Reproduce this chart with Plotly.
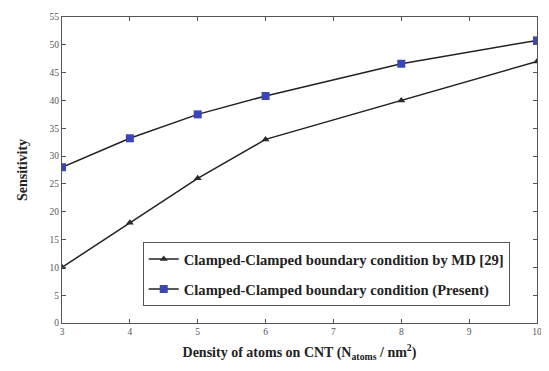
import plotly.graph_objects as go

density = [3, 4, 5, 6, 8, 10]
md_sens = [10, 18, 26, 33, 40, 47]
present_sens = [28, 33.2, 37.5, 40.8, 46.6, 50.8]
x_ticks = [3, 4, 5, 6, 7, 8, 9, 10]
y_ticks = list(range(0, 56, 5))

font_family = "Liberation Serif"

fig = go.Figure()
fig.add_trace(go.Scatter(
    x=density, y=md_sens, mode="lines+markers",
    name="<b>Clamped-Clamped boundary condition by MD [29]</b>",
    legendgroup="md",
    line=dict(color="#222222", width=1.5),
    marker=dict(symbol="triangle-up", size=7, color="#2a2a2a"),
))
fig.add_trace(go.Scatter(
    x=density, y=present_sens, mode="lines+markers",
    name="<b>Clamped-Clamped boundary condition (Present)</b>",
    legendgroup="present",
    line=dict(color="#222222", width=1.5),
    marker=dict(symbol="square", size=8, color="#3a45b8", line=dict(color="#3a45b8", width=0)),
))

axis_common = dict(
    showgrid=False, zeroline=False, showline=True, linecolor="#555555", linewidth=1,
    mirror="ticks", ticks="inside", ticklen=4, tickcolor="#555555", automargin=False,
    tickfont=dict(family=font_family, size=9.5, color="#555555"),
)

fig.update_xaxes(
    range=[3, 10], tickvals=x_ticks, **axis_common,
    title=dict(text="<b>Density of atoms on CNT (N<sub>atoms</sub> / nm<sup>2</sup>)</b>",
               font=dict(family=font_family, size=14, color="#222222"), standoff=10),
)
fig.update_yaxes(
    range=[0, 55], tickvals=y_ticks, **axis_common,
    title=dict(text="<b>Sensitivity</b>",
               font=dict(family=font_family, size=14, color="#222222"), standoff=18),
)

fig.update_layout(
    width=541, height=363,
    margin=dict(l=54, r=12, t=9, b=48),
    paper_bgcolor="white", plot_bgcolor="white",
    font=dict(family=font_family, color="#222222"),
    legend=dict(
        x=0.17, y=0.265, xanchor="left", yanchor="top",
        bordercolor="#555555", borderwidth=1, bgcolor="white",
        font=dict(family=font_family, size=14.6, color="#222222"),
        tracegroupgap=8,
    ),
)

fig.write_html("out.html")
